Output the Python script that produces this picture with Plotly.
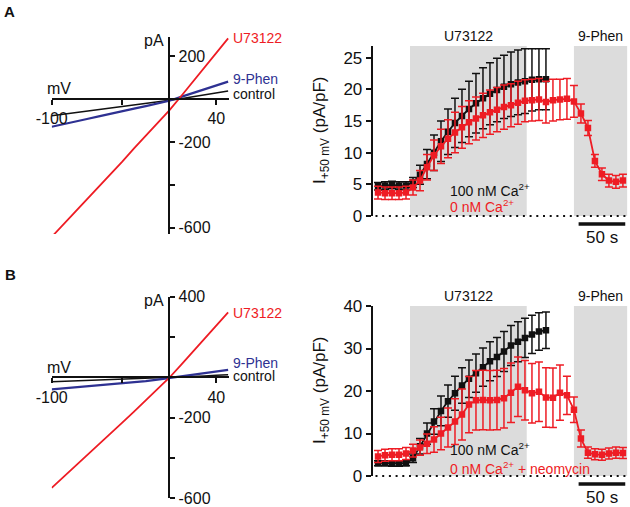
import plotly.graph_objects as go

W, H = 630, 507
OFF = 0  # body margin is removed by the post script below
FONT = "Liberation Sans, Arial, Helvetica, sans-serif"
RED = "#ee1c24"
BLUE = "#2e3192"
BLACK = "#111111"
GREY = "#dcdcdc"

# ---------------- I-V curves (mV, pA) ----------------
iv_mv = [-100, -90, -80, -70, -60, -50, -40, -30, -20, -10, 0, 10, 20, 30, 40, 50]
ivA_u73122 = [-642, -584, -525, -466, -409, -351, -292, -230, -171, -110, -53, 13, 80, 148, 216, 282]
ivA_phen = [-129, -118, -106, -93, -81, -68, -56, -45, -33, -20, -8, 10, 28, 46, 63, 81]
ivA_control = [-78, -71, -64, -57, -50, -43, -36, -29, -22, -15, -8, 1, 10, 19, 28, 37]
ivB_u73122 = [-548, -495, -442, -388, -334, -280, -225, -170, -114, -58, -2, 62, 126, 192, 258, 322]
ivB_phen = [-60, -55, -50, -45, -40, -36, -31, -25, -19, -11, -3, 5, 13, 21, 29, 37]
ivB_control = [-22, -20, -18, -16, -14, -12, -10, -8, -6, -4, -2, 1, 4, 7, 10, 13]

iv_xticks = [-100, 40]
iv_xticktext = ["-100", "40"]
iv_xminor = [-40]
ivA_yticks = [200, -200, -600]
ivA_yticktext = ["200", "-200", "-600"]
ivA_yminor = [-400]
ivB_yticks = [400, -200, -600]
ivB_yticktext = ["400", "-200", "-600"]
ivB_yminor = [200, -400]

# ---------------- time courses (s, pA/pF) ----------------
t_black = [0, 7.5, 15, 22.5, 30, 37.5, 45, 52.5, 60, 67.5, 75, 82.5, 90, 97.5, 105,
           112.5, 120, 127.5, 135, 142.5, 150, 157.5, 165, 172.5, 180]
t_red = [0, 7.5, 15, 22.5, 30, 37.5, 45, 52.5, 60, 67.5, 75, 82.5, 90, 97.5, 105,
         112.5, 120, 127.5, 135, 142.5, 150, 157.5, 165, 172.5, 180, 187.5, 195,
         202.5, 210, 217.5, 225, 232.5, 240, 247.5, 255, 262.5]

A_black_mean = [4.7, 4.8, 4.9, 4.8, 4.8, 5.3, 6.5, 8.2, 10.0, 11.8, 13.3, 14.7, 15.8, 16.9,
                17.8, 18.6, 19.3, 19.9, 20.4, 20.8, 21.1, 21.3, 21.5, 21.6, 21.6]
A_black_sem = [0.6, 0.6, 0.6, 0.6, 0.6, 0.8, 1.5, 2.3, 2.8, 3.2, 3.6, 3.9, 4.2, 4.4, 4.7,
               4.8, 4.9, 5.0, 5.0, 5.1, 5.1, 5.1, 4.9, 4.8, 4.8]
A_red_mean = [3.7, 3.6, 3.6, 3.6, 3.7, 4.5, 5.6, 7.7, 9.6, 11.0, 12.2, 13.2, 14.0, 14.8,
              15.4, 15.9, 16.4, 16.8, 17.2, 17.5, 17.9, 18.2, 18.3, 18.4, 18.0, 18.3,
              18.4, 18.5, 18.1, 16.2, 13.9, 8.7, 6.6, 5.6, 5.4, 5.6]
A_red_sem = [1.0, 1.0, 1.0, 1.0, 1.0, 1.2, 1.6, 2.0, 2.4, 2.7, 3.0, 3.2, 3.3, 3.4, 3.4,
             3.5, 3.5, 3.5, 3.5, 3.4, 3.4, 3.3, 3.3, 3.3, 3.3, 3.3, 3.2, 3.2, 2.5, 1.5,
             1.2, 1.0, 1.0, 1.0, 1.0, 1.0]

B_black_mean = [3.0, 3.0, 2.9, 2.9, 3.0, 4.2, 7.0, 10.0, 12.8, 15.3, 17.6, 19.5, 21.3, 22.9,
                24.2, 25.6, 27.0, 28.0, 29.3, 30.7, 31.6, 32.5, 33.3, 34.0, 34.3]
B_black_sem = [0.6, 0.6, 0.6, 0.6, 0.6, 1.0, 1.8, 2.5, 3.0, 3.5, 3.8, 4.0, 4.2, 4.4, 4.5,
               4.5, 4.6, 4.6, 4.7, 4.7, 4.7, 4.6, 4.5, 4.4, 4.3]
B_red_mean = [4.6, 4.9, 5.0, 5.0, 5.3, 6.0, 6.7, 7.6, 8.6, 10.0, 11.4, 12.8, 14.5, 16.8,
              17.8, 17.9, 17.8, 17.9, 18.3, 19.6, 21.0, 20.2, 19.5, 19.8, 18.5, 18.4,
              19.6, 19.0, 15.6, 8.8, 5.5, 5.1, 5.0, 5.3, 5.5, 5.4]
B_red_sem = [1.4, 1.4, 1.4, 1.4, 1.4, 1.5, 1.8, 2.3, 3.0, 3.8, 4.6, 5.4, 6.0, 6.6, 7.0,
             7.0, 7.0, 7.0, 7.0, 7.0, 7.0, 7.0, 7.0, 7.0, 7.0, 7.0, 6.5, 4.5, 3.0, 2.0,
             1.3, 1.3, 1.3, 1.3, 1.3, 1.3]

drug_periods = [("U73122", 34.3, 159.4), ("9-Phen", 210.0, 267.3)]
scale_bar = (215, 265)  # 50 s
A_ticks = [0, 5, 10, 15, 20, 25]
B_ticks = [0, 10, 20, 30, 40]

# ---------------- layout geometry (window pixels -> paper) ----------------
def fx(p):
    return (p - OFF) / W

def fy(p):
    return 1 - (p - OFF) / H

iv_xrange = [-100, 51]
iv_xdom = [fx(51.7), fx(229.3)]
ivA_yrange = [-628, 290]
ivA_ydom = [fy(233.9), fy(36.7)]
ivB_yrange = [-600, 400]
ivB_ydom = [fy(498.3), fy(296.7)]

tc_xrange = [-5.7, 267.3]
tc_xdom = [fx(372.7), fx(627.4)]
tcA_yrange = [0, 26.85]
tcA_ydom = [fy(216), fy(46)]
tcB_yrange = [0, 40]
tcB_ydom = [fy(476), fy(306)]


def zero_pos(rng, dom):
    return dom[0] + (0 - rng[0]) / (rng[1] - rng[0]) * (dom[1] - dom[0])


fig = go.Figure()

# I-V traces
for xa, ya, series in [
    ("x", "y", [(ivA_control, BLACK, 1.5), (ivA_phen, BLUE, 2.2), (ivA_u73122, RED, 1.8)]),
    ("x3", "y3", [(ivB_control, BLACK, 1.5), (ivB_phen, BLUE, 2.2), (ivB_u73122, RED, 1.8)]),
]:
    for vals, col, lw in series:
        fig.add_trace(go.Scatter(x=iv_mv, y=vals, mode="lines", xaxis=xa, yaxis=ya,
                                 line=dict(color=col, width=lw), hoverinfo="skip"))

# time-course traces
for xa, ya, series in [
    ("x2", "y2", [(t_black, A_black_mean, A_black_sem, BLACK), (t_red, A_red_mean, A_red_sem, RED)]),
    ("x4", "y4", [(t_black, B_black_mean, B_black_sem, BLACK), (t_red, B_red_mean, B_red_sem, RED)]),
]:
    for tt, mm, ss, col in series:
        fig.add_trace(go.Scatter(
            x=tt, y=mm, mode="lines+markers", xaxis=xa, yaxis=ya,
            line=dict(color=col, width=1.8),
            marker=dict(symbol="square", size=6.5, color=col),
            error_y=dict(type="data", array=ss, visible=True, color=col, thickness=1.5, width=4),
            hoverinfo="skip"))

axis_common = dict(showgrid=False, zeroline=False, showline=True, linewidth=2, linecolor=BLACK,
                   ticks="outside", ticklen=5, tickwidth=2, tickcolor=BLACK, automargin=False,
                   tickfont=dict(family=FONT, size=16, color=BLACK))
minor_common = dict(ticks="outside", ticklen=5, tickwidth=2, tickcolor=BLACK, showgrid=False)

layout = dict(
    width=W, height=H, margin=dict(l=0, r=0, t=0, b=0, pad=0, autoexpand=False),
    paper_bgcolor="white", plot_bgcolor="white", showlegend=False,
    font=dict(family=FONT, color=BLACK),
)

# I-V axes (crossing at origin)
layout["xaxis"] = dict(axis_common, domain=iv_xdom, range=iv_xrange, anchor="free",
                       position=zero_pos(ivA_yrange, ivA_ydom), side="bottom",
                       tickvals=iv_xticks, ticktext=iv_xticktext,
                       minor=dict(minor_common, tickvals=iv_xminor))
layout["yaxis"] = dict(axis_common, domain=ivA_ydom, range=ivA_yrange, anchor="free",
                       position=zero_pos(iv_xrange, iv_xdom), side="right",
                       tickvals=ivA_yticks, ticktext=ivA_yticktext,
                       minor=dict(minor_common, tickvals=ivA_yminor))
layout["xaxis3"] = dict(axis_common, domain=iv_xdom, range=iv_xrange, anchor="free",
                        position=zero_pos(ivB_yrange, ivB_ydom), side="bottom",
                        tickvals=iv_xticks, ticktext=iv_xticktext,
                        minor=dict(minor_common, tickvals=iv_xminor))
layout["yaxis3"] = dict(axis_common, domain=ivB_ydom, range=ivB_yrange, anchor="free",
                        position=zero_pos(iv_xrange, iv_xdom), side="right",
                        tickvals=ivB_yticks, ticktext=ivB_yticktext,
                        minor=dict(minor_common, tickvals=ivB_yminor))

# time-course axes
tc_y_common = dict(axis_common, tickfont=dict(family=FONT, size=17, color=BLACK))
layout["xaxis2"] = dict(domain=tc_xdom, range=tc_xrange, anchor="y2", visible=False,
                        automargin=False)
layout["yaxis2"] = dict(tc_y_common, domain=tcA_ydom, range=tcA_yrange, anchor="x2",
                        tickvals=A_ticks)
layout["xaxis4"] = dict(domain=tc_xdom, range=tc_xrange, anchor="y4", visible=False,
                        automargin=False)
layout["yaxis4"] = dict(tc_y_common, domain=tcB_ydom, range=tcB_yrange, anchor="x4",
                        tickvals=B_ticks)

fig.update_layout(**layout)

shapes = []
annots = []

# time-course decorations
for xr, yr, ydom, (lab1, lab2), y1, y2 in [
    ("x2", "y2", tcA_ydom, ("100 nM Ca<sup>2+</sup>", "0 nM Ca<sup>2+</sup>"), 4.1, 1.6),
    ("x4", "y4", tcB_ydom, ("100 nM Ca<sup>2+</sup>", "0 nM Ca<sup>2+</sup> + neomycin"), 6.3, 1.9),
]:
    ydref = yr + " domain"
    dom_px = (ydom[1] - ydom[0]) * H
    for name, t0, t1 in drug_periods:
        shapes.append(dict(type="rect", xref=xr, yref=ydref, x0=t0, x1=t1, y0=0, y1=1,
                           fillcolor=GREY, line=dict(width=0), layer="below"))
        annots.append(dict(xref=xr, yref=ydref, x=(t0 + t1) / 2, y=1, text=name,
                           showarrow=False, yanchor="bottom", xanchor="center",
                           font=dict(size=14, family=FONT, color=BLACK)))
    shapes.append(dict(type="line", xref=xr, yref=ydref, x0=tc_xrange[0] + 3, x1=tc_xrange[1],
                       y0=0, y1=0, line=dict(color=BLACK, width=2, dash="2px,4.7px")))
    sb_y = -8 / dom_px
    shapes.append(dict(type="line", xref=xr, yref=ydref, x0=scale_bar[0], x1=scale_bar[1],
                       y0=sb_y, y1=sb_y, line=dict(color=BLACK, width=3.5)))
    annots.append(dict(xref=xr, yref=ydref, x=(scale_bar[0] + scale_bar[1]) / 2, y=sb_y,
                       text="50 s", showarrow=False, yanchor="top", xanchor="center", yshift=-2,
                       font=dict(size=17, family=FONT, color=BLACK)))
    annots.append(dict(xref=xr, yref=yr, x=75, y=y1, text=lab1, showarrow=False,
                       xanchor="left", yanchor="middle",
                       font=dict(size=14, family=FONT, color=BLACK)))
    annots.append(dict(xref=xr, yref=yr, x=75, y=y2, text=lab2, showarrow=False,
                       xanchor="left", yanchor="middle",
                       font=dict(size=14, family=FONT, color=RED)))
    annots.append(dict(xref="paper", yref=ydref, x=fx(321), y=0.5,
                       text="I<sub>+50 mV</sub> (pA/pF)", showarrow=False, textangle=-90,
                       xanchor="center", yanchor="middle",
                       font=dict(size=17, family=FONT, color=BLACK)))

# I-V decorations
for xr, yr, yrange, ctrl, phen, u73, shifts in [
    ("x", "y", ivA_yrange, ivA_control, ivA_phen, ivA_u73122, (0, 3, -3)),
    ("x3", "y3", ivB_yrange, ivB_control, ivB_phen, ivB_u73122, (-1, 7, -1)),
]:
    annots.append(dict(xref=xr, yref=yr, x=0, y=yrange[1], text="pA", showarrow=False,
                       xanchor="right", yanchor="middle", xshift=-3, yshift=-4,
                       font=dict(size=16, family=FONT, color=BLACK)))
    annots.append(dict(xref=xr, yref=yr, x=iv_xrange[0], y=0, text="mV", showarrow=False,
                       xanchor="left", yanchor="middle", xshift=-7, yshift=10,
                       font=dict(size=16, family=FONT, color=BLACK)))
    for vals, txt, col, sh in [(u73, "U73122", RED, shifts[0]), (phen, "9-Phen", BLUE, shifts[1]),
                               (ctrl, "control", BLACK, shifts[2])]:
        annots.append(dict(xref=xr, yref=yr, x=iv_mv[-1], y=vals[-1], text=txt,
                           showarrow=False, xanchor="left", yanchor="middle", xshift=3,
                           yshift=sh, font=dict(size=14, family=FONT, color=col)))

annots.append(dict(xref="paper", yref="paper", x=fx(9), y=fy(11.5), text="<b>A</b>",
                   showarrow=False, xanchor="center", yanchor="middle",
                   font=dict(size=15, family=FONT, color=BLACK)))
annots.append(dict(xref="paper", yref="paper", x=fx(10), y=fy(274), text="<b>B</b>",
                   showarrow=False, xanchor="center", yanchor="middle",
                   font=dict(size=15, family=FONT, color=BLACK)))

fig.update_layout(shapes=shapes, annotations=annots)
fig.write_html("out.html", config={"displayModeBar": False},
               post_script="document.body.style.margin='0px';")
